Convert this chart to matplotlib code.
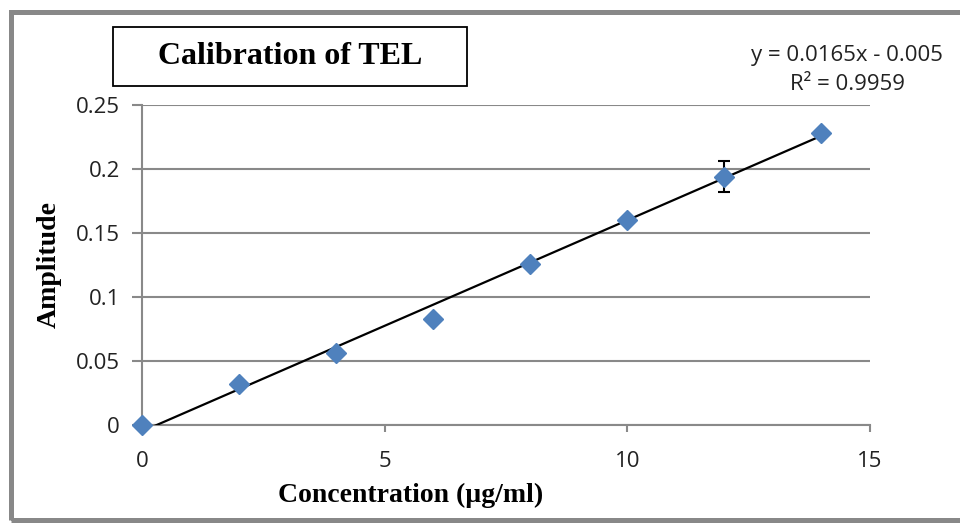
import numpy as np
import matplotlib.pyplot as plt
from matplotlib.patches import Rectangle

# Calibration data
concentration = [0, 2, 4, 6, 8, 10, 12, 14]
amplitude = [0.0, 0.032, 0.056, 0.083, 0.126, 0.160, 0.194, 0.228]
amp_error = [0, 0, 0, 0, 0, 0, 0.012, 0]

# Trendline coefficients as printed on the chart
slope = 0.0165
intercept = -0.005
r_squared = 0.9959

x_ticks = [0, 5, 10, 15]
y_ticks = [0, 0.05, 0.1, 0.15, 0.2, 0.25]
y_tick_labels = ['0', '0.05', '0.1', '0.15', '0.2', '0.25']

grid_grey = '#898989'
tick_font = 'Open Sans'

fig = plt.figure(figsize=(9.6, 5.23), dpi=100)
ax = fig.add_axes([142 / 960, 1 - 425 / 523, (870 - 142) / 960, (425 - 105) / 523])

# grey border around the whole chart
fig.patches.append(Rectangle((10.5 / 960, 1 - 520 / 523), 1.0, (520 - 12) / 523,
                             transform=fig.transFigure, fill=False,
                             edgecolor='#888888', linewidth=3.6))

# trendline, clipped at y = 0 like in Excel
x_fit = np.linspace(0, 14, 200)
y_fit = slope * x_fit + intercept
ax.plot(x_fit, y_fit, color='black', linewidth=1.6, zorder=3)

ax.errorbar(concentration, amplitude, yerr=amp_error, fmt='D', color='#4F81BD',
            markersize=10.5, ecolor='black', elinewidth=1.5, capsize=4.5, capthick=1.5,
            zorder=4, clip_on=False)

ax.set_xlim(0, 15)
ax.set_ylim(0, 0.25)
ax.set_xticks(x_ticks)
ax.set_yticks(y_ticks)
ax.set_yticklabels(y_tick_labels)
for lbl in ax.get_xticklabels() + ax.get_yticklabels():
    lbl.set_fontfamily(tick_font)
    lbl.set_fontsize(16)

ax.yaxis.grid(True, color=grid_grey, linewidth=1.5)
ax.set_axisbelow(True)
for side in ['top', 'right']:
    ax.spines[side].set_visible(False)
ax.spines['left'].set_color(grid_grey)
ax.spines['bottom'].set_color(grid_grey)
ax.spines['left'].set_linewidth(1.5)
ax.spines['bottom'].set_linewidth(1.5)
ax.tick_params(axis='both', direction='out', color=grid_grey, width=1.5,
               labelcolor='#222222')
ax.tick_params(axis='x', length=5, pad=14)
ax.tick_params(axis='y', length=7, pad=9)

# x label sits left of the axis centre in the original
ax.set_xlabel('Concentration (µg/ml)', fontfamily='Liberation Serif',
              fontweight='bold', fontsize=20, va='center')
ax.xaxis.set_label_coords((411 - 142) / 728, (425 - 495) / 320)
ax.set_ylabel('Amplitude', fontfamily='Liberation Serif', fontweight='bold',
              fontsize=20, labelpad=10)

# boxed title
fig.text(290 / 960, 1 - 57 / 523, 'Calibration of TEL', fontfamily='Liberation Serif',
         fontweight='bold', fontsize=23, ha='center', va='center')
fig.patches.append(Rectangle((113 / 960, 1 - 86 / 523), (467 - 113) / 960, (86 - 27) / 523,
                             transform=fig.transFigure, fill=False,
                             edgecolor='black', linewidth=1.3))

# trendline equation
fig.text(847 / 960, 1 - 55 / 523, f'y = {slope}x - {abs(intercept)}', fontfamily=tick_font,
         fontsize=16, ha='center', va='center', color='#222222')
fig.text(847 / 960, 1 - 85 / 523, f'R² = {r_squared}', fontfamily=tick_font,
         fontsize=16, ha='center', va='center', color='#222222')

plt.savefig('out.png', dpi=100)
